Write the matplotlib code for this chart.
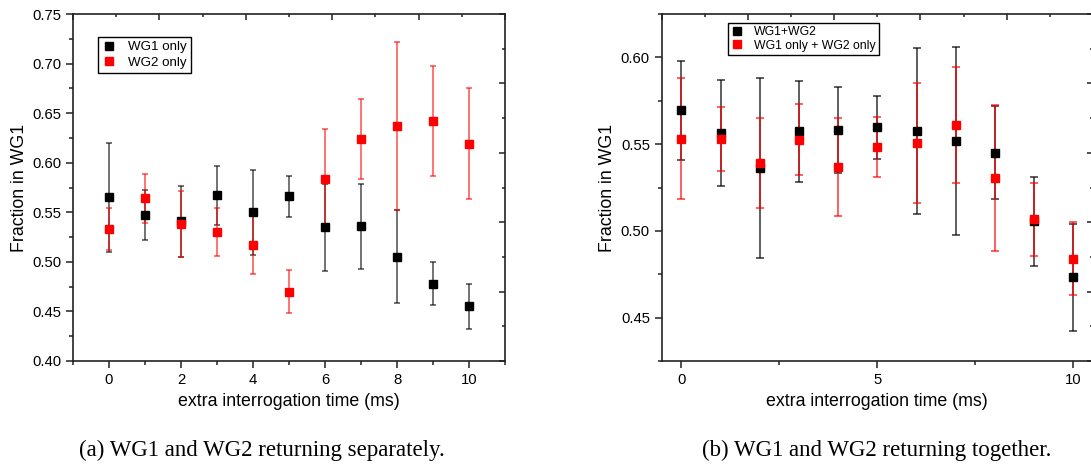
import matplotlib
matplotlib.use("Agg")
import matplotlib.pyplot as plt
from matplotlib.lines import Line2D
from matplotlib.ticker import MultipleLocator, FormatStrFormatter

# ---- data -------------------------------------------------------------
t_ms = [0, 1, 2, 3, 4, 5, 6, 7, 8, 9, 10]

# (a) returning separately
wg1_only = [0.565, 0.547, 0.541, 0.567, 0.550, 0.566, 0.535, 0.536, 0.505, 0.478, 0.455]
wg1_only_err = [0.055, 0.025, 0.036, 0.030, 0.043, 0.021, 0.044, 0.043, 0.047, 0.0215, 0.0225]
wg2_only = [0.533, 0.564, 0.538, 0.530, 0.517, 0.470, 0.584, 0.624, 0.637, 0.642, 0.619]
wg2_only_err = [0.0215, 0.0245, 0.033, 0.0245, 0.029, 0.0215, 0.050, 0.040, 0.0845, 0.0555, 0.056]

# (b) returning together
wg_both = [0.5695, 0.5565, 0.5363, 0.5574, 0.5582, 0.5597, 0.5576, 0.5519, 0.5451, 0.5056, 0.4732]
wg_both_err = [0.0285, 0.0307, 0.052, 0.029, 0.0248, 0.018, 0.0477, 0.054, 0.0268, 0.0257, 0.031]
wg_sum = [0.5532, 0.553, 0.539, 0.5526, 0.5367, 0.5486, 0.5507, 0.5611, 0.5304, 0.5066, 0.484]
wg_sum_err = [0.0347, 0.0186, 0.026, 0.0203, 0.0283, 0.0173, 0.0345, 0.0336, 0.0422, 0.0209, 0.0212]

labels_a = ["WG1 only", "WG2 only"]
labels_b = ["WG1+WG2", "WG1 only + WG2 only"]
captions = ["(a) WG1 and WG2 returning separately.",
            "(b) WG1 and WG2 returning together."]
xlabel = "extra interrogation time (ms)"
ylabel = "Fraction in WG1"

# ---- style ------------------------------------------------------------
plt.rcParams["font.family"] = ["Liberation Sans", "DejaVu Sans"]
W, H = 1091, 476
fig = plt.figure(figsize=(W / 100, H / 100), dpi=100)


def px_axes(x0, x1, y0, y1):
    return fig.add_axes([x0 / W, 1 - y1 / H, (x1 - x0) / W, (y1 - y0) / H])


def decorate(ax):
    for s in ax.spines.values():
        s.set_linewidth(1.2)
        s.set_color("#222222")
    ax.tick_params(which="both", direction="out", labelsize=10.7, width=1.1,
                   color="#222222", pad=3.5)
    ax.tick_params(which="major", length=5)
    ax.tick_params(which="minor", length=3)
    ax.tick_params(top=False, right=False)
    # secondary frame ticks on the top and right edges
    sx = ax.twinx()
    sx.set_ylim(0, 10)
    sx.yaxis.set_major_locator(MultipleLocator(2))
    sx.yaxis.set_minor_locator(MultipleLocator(1))
    sx.tick_params(which="both", direction="in", labelright=False, width=1.1,
                   color="#222222")
    sx.tick_params(which="major", length=4.5)
    sx.tick_params(which="minor", length=2.5)
    sy = ax.twiny()
    sy.set_xlim(0, 10)
    sy.xaxis.set_major_locator(MultipleLocator(2))
    sy.xaxis.set_minor_locator(MultipleLocator(1))
    sy.tick_params(which="both", direction="in", labeltop=False, width=1.1,
                   color="#222222")
    sy.tick_params(which="major", length=4.5)
    sy.tick_params(which="minor", length=2.5)
    for a in (sx, sy):
        for s in a.spines.values():
            s.set_visible(False)
    ax.set_xlabel(xlabel, fontsize=12.8)
    ax.set_ylabel(ylabel, fontsize=12.8)
    ax.xaxis.set_label_coords(0.5, -0.093)
    ax.yaxis.set_label_coords(-0.105, 0.5)


def draw_pair(ax, ya, ea, yb, eb, alpha, lw, cap, ms):
    ax.errorbar(t_ms, ya, yerr=ea, fmt="none", ecolor="black", alpha=alpha,
                elinewidth=lw, capsize=cap, capthick=lw, zorder=2)
    ax.errorbar(t_ms, yb, yerr=eb, fmt="none", ecolor="red", alpha=alpha,
                elinewidth=lw, capsize=cap, capthick=lw, zorder=2)
    ax.plot(t_ms, ya, ls="none", marker="s", ms=ms, color="black",
            mec="black", zorder=3)
    ax.plot(t_ms, yb, ls="none", marker="s", ms=ms, color="red",
            mec="red", zorder=3)


def legend(ax, labels, anchor, fontsize, spacing, pad):
    handles = [Line2D([], [], ls="none", marker="s", ms=5.3, color=c)
               for c in ("black", "red")]
    leg = ax.legend(handles, labels, loc="upper left", bbox_to_anchor=anchor,
                    fontsize=fontsize, frameon=True, fancybox=False,
                    edgecolor="black", framealpha=1, handlelength=1.0,
                    handletextpad=0.9, borderpad=pad, labelspacing=spacing,
                    borderaxespad=0)
    leg.get_frame().set_linewidth(1.0)
    leg.set_zorder(5)


# ---- (a) --------------------------------------------------------------
axa = px_axes(73, 505, 14, 361)
draw_pair(axa, wg1_only, wg1_only_err, wg2_only, wg2_only_err,
          alpha=0.55, lw=1.4, cap=2.2, ms=5.3)
axa.set_xlim(-1, 11)
axa.set_ylim(0.40, 0.75)
axa.xaxis.set_major_locator(MultipleLocator(2))
axa.xaxis.set_minor_locator(MultipleLocator(1))
axa.yaxis.set_major_locator(MultipleLocator(0.05))
axa.yaxis.set_minor_locator(MultipleLocator(0.025))
axa.yaxis.set_major_formatter(FormatStrFormatter("%.2f"))
decorate(axa)
legend(axa, labels_a, (0.059, 0.934), 9.6, 0.25, 0.3)

# ---- (b) --------------------------------------------------------------
axb = px_axes(661.7, 1093, 14, 361)
draw_pair(axb, wg_both, wg_both_err, wg_sum, wg_sum_err,
          alpha=0.8, lw=1.1, cap=2.6, ms=5.3)
axb.set_xlim(-0.5, 10.5)
axb.set_ylim(0.425, 0.625)
axb.xaxis.set_major_locator(MultipleLocator(5))
axb.xaxis.set_minor_locator(MultipleLocator(2.5))
axb.yaxis.set_major_locator(MultipleLocator(0.05))
axb.yaxis.set_minor_locator(MultipleLocator(0.025))
axb.yaxis.set_major_formatter(FormatStrFormatter("%.2f"))
decorate(axb)
legend(axb, labels_b, (0.153, 0.974), 8.8, 0.12, 0.25)

# ---- captions -----------------------------------------------------------
for cx, txt in zip((262, 877), captions):
    fig.text(cx / W, 1 - 450 / H, txt, ha="center", va="center",
             fontsize=16.5, family=["Liberation Serif", "DejaVu Serif"])

fig.savefig("out.png", dpi=100)
